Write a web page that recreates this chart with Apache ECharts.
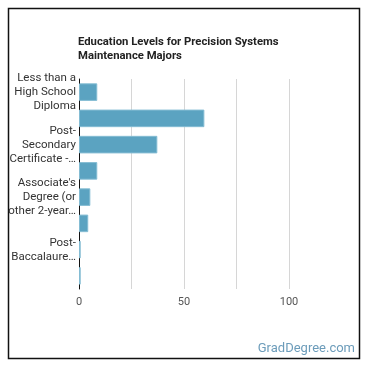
<!DOCTYPE html>
<html>
<head>
<meta charset="utf-8">
<script src="https://cdn.jsdelivr.net/npm/echarts@6/dist/echarts.min.js"></script>
<style>
  html, body { margin: 0; padding: 0; background: #fff; }
  #eduChart { width: 370px; height: 370px; }
</style>
</head>
<body>
<div id="eduChart"></div>
<script>
// categories as shown (top to bottom); the picture only labels every other bar
const categories = [
  'Less than a\nHigh School\nDiploma',
  'High School Diploma',
  'Post-\nSecondary\nCertificate -…',
  'Some College Courses',
  'Associate\'s\nDegree (or\nother 2-year…',
  'Bachelor\'s Degree',
  'Post-\nBaccalaure…',
  'Master\'s Degree'
];
const percents = [8.7, 59.7, 37.3, 8.7, 5.4, 4.4, 0.8, 0.8];
const xTicks = [0, 25, 50, 75, 100];

const chart = echarts.init(document.getElementById('eduChart'));

const option = {
  animation: false,
  title: {
    text: 'Education Levels for Precision Systems\nMaintenance Majors',
    left: 78,
    top: 35,
    padding: 0,
    textStyle: {
      fontFamily: 'Roboto',
      fontSize: 11.3,
      fontWeight: 'bold',
      color: '#222',
      lineHeight: 14
    }
  },
  graphic: [
    {
      type: 'rect',
      shape: { x: 8.5, y: 8.5, width: 351, height: 350 },
      style: { fill: 'none', stroke: '#111', lineWidth: 1.5 },
      silent: true
    },
    {
      type: 'text',
      right: 15,
      bottom: 15,
      style: {
        text: 'GradDegree.com',
        fill: '#6c9cba',
        font: '13px Roboto'
      }
    }
  ],
  grid: {
    left: 79,
    right: 81,
    top: 79,
    bottom: 81,
    containLabel: false
  },
  xAxis: {
    type: 'value',
    min: xTicks[0],
    max: xTicks[xTicks.length - 1],
    interval: 25,
    axisLine: { show: false },
    axisTick: { show: false },
    axisLabel: {
      fontFamily: 'Roboto',
      fontSize: 11,
      color: '#555',
      margin: 8,
      formatter: v => (v % 50 === 0 ? String(v) : '')
    },
    splitLine: { lineStyle: { color: '#d6d6d6', width: 1 } }
  },
  yAxis: {
    type: 'category',
    inverse: true,
    data: categories,
    axisLine: { show: true, lineStyle: { color: '#111', width: 1 } },
    axisTick: { show: false },
    axisLabel: {
      interval: 1,
      fontFamily: 'Roboto',
      fontSize: 11.5,
      color: '#333',
      lineHeight: 14,
      margin: 3,
      align: 'right'
    }
  },
  series: [
    {
      type: 'bar',
      data: percents,
      barCategoryGap: '33%',
      itemStyle: {
        color: '#5ba3c1',
        borderColor: '#84bcd3',
        borderWidth: 1
      }
    }
  ]
};

chart.setOption(option);
</script>
</body>
</html>
